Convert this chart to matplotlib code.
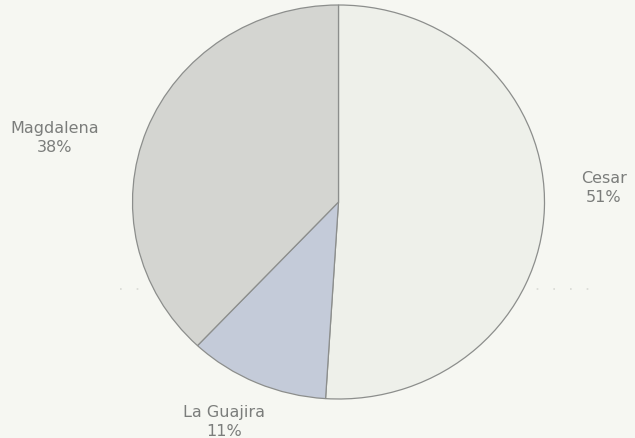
import matplotlib

matplotlib.use("Agg")
import matplotlib.pyplot as plt

# data
regions = ["Cesar", "La Guajira", "Magdalena"]
shares = [51, 11, 38]
colors = ["#eef0ea", "#c4cbd9", "#d4d5d1"]

# label anchors in pixel space (x from left, y from top)
label_xy = [(604, 188), (224, 422), (55, 138)]

W, H = 635, 439
BG = "#f6f7f2"
RX, RY = 206, 197          # the scanned pie is a touch wider than tall
K = RX / RY                # vertical stretch of data units


def py(y):
    # pixel row (from top) -> data y
    return (H - y) * K


fig = plt.figure(figsize=(W / 100, H / 100), dpi=100, facecolor=BG)
ax = fig.add_axes([0, 0, 1, 1])
ax.set_facecolor(BG)

# faint dotted rule behind the pie
ax.plot([120, 600], [py(290), py(290)], color="#d8dad5", lw=1.2,
        ls=(0, (1, 9)), zorder=0)

ax.pie(shares, colors=colors, startangle=90, counterclock=False,
       center=(338.5, py(203)), radius=RX, frame=True,
       wedgeprops=dict(edgecolor="#8c8e8c", linewidth=0.9))
ax.set_aspect("auto")
ax.set_xlim(0, W)
ax.set_ylim(0, H * K)
ax.axis("off")

for name, pct, (x, y) in zip(regions, shares, label_xy):
    ax.text(x, py(y), f"{name}\n{pct}%", ha="center", va="center",
            fontsize=11.5, color="#7b7d7b", linespacing=1.3,
            family=["Liberation Sans Narrow", "DejaVu Sans"])

fig.savefig("out.png", dpi=100, facecolor=BG)
